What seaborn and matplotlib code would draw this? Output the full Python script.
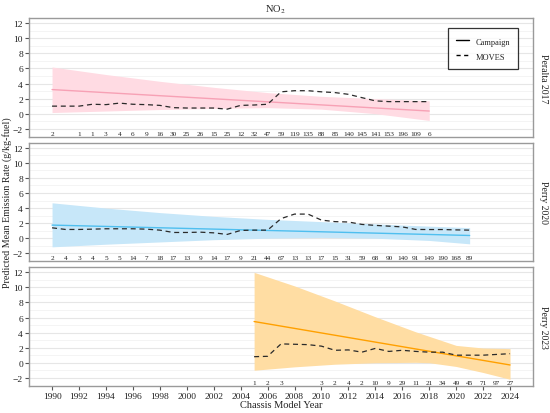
import numpy as np
import pandas as pd
import matplotlib
matplotlib.use('Agg')
import matplotlib.pyplot as plt
from matplotlib.lines import Line2D
import seaborn as sns

# --- Data ---
panel_names = ['Peralta 2017', 'Perry 2020', 'Perry 2023']
line_colors = ['#F7A1B5', '#4FBFEF', '#FFA000']
band_colors = ['#FFDBE3', '#C7E7F9', '#FFDDA3']

# Peralta 2017
p1_years = list(range(1990, 2019))
p1_moves = [1.0, 1.0, 1.0, 1.25, 1.2, 1.4, 1.25, 1.2, 1.1, 0.8, 0.75, 0.75, 0.75, 0.6,
            1.1, 1.15, 1.25, 2.9, 3.05, 3.05, 2.9, 2.8, 2.57, 2.13, 1.7, 1.6, 1.6, 1.6, 1.6]
p1_counts = ['2', '', '1', '1', '3', '4', '6', '9', '16', '30', '25', '26', '15', '25', '12',
             '32', '47', '59', '119', '135', '88', '85', '140', '145', '141', '153', '196', '109', '6']
p1_camp_years = [1990, 2018]
p1_camp = [3.2, 0.35]
p1_band_years = [1990, 1994, 1998, 2002, 2006, 2010, 2014, 2018]
p1_upper = [6.2, 5.2, 4.3, 3.5, 2.8, 2.3, 2.0, 1.7]
p1_lower = [0.15, 0.35, 0.55, 0.7, 0.8, 0.6, 0.0, -0.9]

# Perry 2020
p2_years = list(range(1990, 2022))
p2_moves = [1.38, 1.16, 1.16, 1.2, 1.25, 1.25, 1.25, 1.2, 1.07, 0.76, 0.76, 0.8, 0.71, 0.5,
            1.03, 1.07, 1.07, 2.6, 3.2, 3.2, 2.4, 2.2, 2.15, 1.83, 1.7, 1.6, 1.5, 1.16,
            1.15, 1.15, 1.1, 1.07]
p2_counts = ['2', '4', '3', '4', '5', '5', '14', '7', '18', '17', '13', '9', '14', '17', '9',
             '21', '44', '67', '13', '13', '17', '15', '31', '59', '68', '90', '140', '91',
             '149', '190', '168', '89']
p2_camp_years = [1990, 2021]
p2_camp = [1.74, 0.36]
p2_band_years = [1990, 1994, 1998, 2002, 2006, 2010, 2014, 2018, 2021]
p2_upper = [4.7, 4.0, 3.4, 2.9, 2.5, 2.2, 1.9, 1.6, 1.4]
p2_lower = [-1.15, -0.8, -0.5, -0.2, 0.0, 0.1, 0.0, -0.3, -0.75]

# Perry 2023
p3_years = list(range(2005, 2025))
p3_moves = [0.8, 0.85, 2.5, 2.45, 2.4, 2.2, 1.65, 1.7, 1.4, 1.9, 1.5, 1.65, 1.5, 1.4, 1.4,
            1.0, 1.0, 1.0, 1.1, 1.2]
p3_counts = ['1', '2', '3', '', '', '3', '2', '4', '2', '10', '9', '29', '11', '21', '34',
             '49', '45', '71', '97', '27']
p3_camp_years = [2005, 2024]
p3_camp = [5.47, -0.3]
p3_band_years = [2005, 2008, 2011, 2014, 2017, 2018, 2020, 2022, 2024]
p3_upper = [12.0, 10.2, 8.2, 6.1, 4.1, 3.5, 2.3, 1.95, 1.87]
p3_lower = [-1.0, -0.55, -0.2, 0.0, 0.05, 0.0, -0.5, -1.3, -2.2]

panels = [
    (p1_years, p1_moves, p1_counts, p1_camp_years, p1_camp, p1_band_years, p1_upper, p1_lower),
    (p2_years, p2_moves, p2_counts, p2_camp_years, p2_camp, p2_band_years, p2_upper, p2_lower),
    (p3_years, p3_moves, p3_counts, p3_camp_years, p3_camp, p3_band_years, p3_upper, p3_lower),
]

# --- Style ---
sns.set_theme(style='white')
plt.rcParams['font.family'] = ['Liberation Serif', 'DejaVu Serif']
plt.rcParams['mathtext.fontset'] = 'stix'
grey_txt = '#222222'

fig, axes = plt.subplots(3, 1, figsize=(5.5, 4.14), dpi=100, sharex=True, sharey=True)
fig.subplots_adjust(left=0.053, right=0.969, top=0.954, bottom=0.066, hspace=0.05)

for i, (ax, pan) in enumerate(zip(axes, panels)):
    years, moves, counts, cyears, camp, byears, upper, lower = pan

    ax.fill_between(byears, lower, upper, color=band_colors[i], lw=0, zorder=1)
    sns.lineplot(x=cyears, y=camp, color=line_colors[i], lw=1.0, ax=ax, zorder=3)
    sns.lineplot(x=years, y=moves, color='#2a2a2a', lw=0.9, ax=ax, zorder=4,
                 linestyle=(0, (4, 3)))
    for yr, c in zip(years, counts):
        if c:
            ax.text(yr, -2.6, c, ha='center', va='center', fontsize=5.2, color=grey_txt)

    ax.set_ylim(-3.05, 12.7)
    ax.set_xlim(1988.3, 2025.7)
    ax.set_yticks(np.arange(-2, 13, 2))
    ax.set_yticks(np.arange(-1, 13, 2), minor=True)
    ax.set_yticklabels(['\u22122' if v < 0 else str(v) for v in range(-2, 13, 2)])
    ax.grid(axis='y', which='major', color='#e6e6e6', lw=0.8, zorder=0)
    ax.grid(axis='y', which='minor', color='#f2f2f2', lw=0.6, zorder=0)
    ax.grid(axis='x', visible=False)
    ax.set_axisbelow(True)
    ax.set_xlabel('')
    ax.set_ylabel('')
    for sp in ax.spines.values():
        sp.set_color('#9a9a9a')
        sp.set_linewidth(1.0)
    ax.tick_params(axis='y', which='major', length=3, width=0.8, color='#555555',
                   labelsize=6.8, labelcolor=grey_txt, pad=1.5, left=True)
    ax.tick_params(axis='y', which='minor', length=0)
    ax.text(1.021, 0.5, panel_names[i], transform=ax.transAxes, rotation=270,
            ha='center', va='center', fontsize=7, color=grey_txt)
    if i < 2:
        ax.tick_params(axis='x', length=0, labelbottom=False)

axes[2].set_xticks(np.arange(1990, 2025, 2))
axes[2].tick_params(axis='x', length=3, width=0.8, color='#555555', labelsize=6.8,
                    labelcolor=grey_txt, pad=1.5, bottom=True)

handles = [Line2D([], [], color='black', lw=1.0),
           Line2D([], [], color='black', lw=1.0, linestyle=(0, (3, 2.5)))]
leg = axes[0].legend(handles, ['Campaign', 'MOVES'], loc='upper right',
                     bbox_to_anchor=(0.978, 0.95), fontsize=6, frameon=True,
                     fancybox=False, edgecolor='black', borderpad=0.9,
                     labelspacing=0.55, handleheight=1.6, handlelength=1.6,
                     handletextpad=0.8)
leg.get_frame().set_linewidth(0.9)

fig.text(0.5, 0.976, 'NO$_2$', ha='center', va='center', fontsize=7.5, color=grey_txt)
fig.text(0.511, 0.021, 'Chassis Model Year', ha='center', va='center', fontsize=7.5,
         color=grey_txt)
fig.text(0.013, 0.51, 'Predicted Mean Emission Rate (g/kg-fuel)', ha='center',
         va='center', rotation=90, fontsize=7.2, color=grey_txt)

fig.savefig('out.png', dpi=100)
